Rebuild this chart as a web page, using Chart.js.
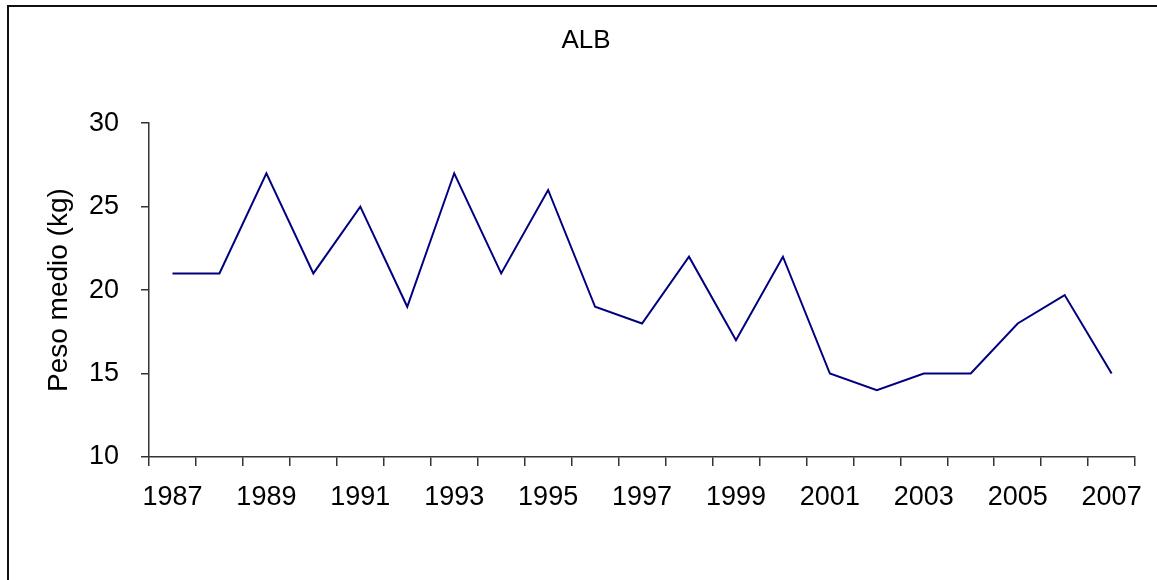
<!DOCTYPE html>
<html>
<head>
<meta charset="utf-8">
<title>ALB</title>
<script src="https://cdn.jsdelivr.net/npm/chart.js@4"></script>
<style>
    html, body { margin: 0; padding: 0; background: #fff; overflow: hidden; }
    #frame {
        position: absolute; left: 7px; top: 5px;
        width: 1300px; height: 700px;
        border-top: 2px solid #111; border-left: 2px solid #111;
    }
    #chart { position: absolute; left: 0; top: 0; }
</style>
</head>
<body>
<div id="frame"></div>
<canvas id="chart" width="1157" height="580"></canvas>
<script>
/* Peso medio ALB, 1987-2007 */

const years = ['1987', '1988', '1989', '1990', '1991', '1992', '1993', '1994', '1995', '1996', '1997',
    '1998', '1999', '2000', '2001', '2002', '2003', '2004', '2005', '2006', '2007'];
const pesoMedio = [21, 21, 27, 21, 25, 19, 27, 21, 26, 19, 18,
    22, 17, 22, 15, 14, 15, 15, 18, 19.7, 15];
const yTicks = [10, 15, 20, 25, 30];

const axisColor = '#333333';
const fontFamily = "'Liberation Sans', Arial, sans-serif";

const ctx = document.getElementById('chart').getContext('2d');
new Chart(ctx, {
    type: 'line',
    data: {
        labels: years,
        datasets: [{
            label: 'ALB',
            data: pesoMedio,
            borderColor: '#000080',
            borderWidth: 2,
            pointRadius: 0,
            tension: 0,
            fill: false
        }]
    },
    options: {
        responsive: false,
        devicePixelRatio: 1,
        animation: false,
        layout: { padding: { left: 30, right: 15, top: 0, bottom: 0 } },
        plugins: {
            legend: { display: false },
            tooltip: { enabled: false },
            title: {
                display: true,
                text: 'ALB',
                color: '#000',
                font: { family: fontFamily, size: 26, weight: 'normal' },
                padding: { top: 25, bottom: 67 }
            }
        },
        scales: {
            x: {
                type: 'category',
                offset: true,
                grid: { offset: true, drawOnChartArea: false, tickLength: 9, color: axisColor, lineWidth: 1.5 },
                border: { color: axisColor, width: 1.5 },
                ticks: {
                    autoSkip: false,
                    maxRotation: 0,
                    padding: 15,
                    color: '#000',
                    font: { family: fontFamily, size: 27 },
                    // only every other year gets a label
                    callback: function(value, index) {
                        return index % 2 === 0 ? years[index] : '';
                    }
                },
                afterFit: function(scale) { scale.height = 123; }
            },
            y: {
                min: yTicks[0],
                max: yTicks[yTicks.length - 1],
                grid: { drawOnChartArea: false, tickLength: 8, color: axisColor, lineWidth: 1.5 },
                border: { color: axisColor, width: 1.5 },
                afterBuildTicks: function(scale) {
                    scale.ticks = yTicks.map(v => ({ value: v }));
                },
                ticks: {
                    padding: 22,
                    color: '#000',
                    font: { family: fontFamily, size: 27 }
                },
                title: {
                    display: true,
                    text: 'Peso medio (kg)',
                    color: '#000',
                    font: { family: fontFamily, size: 28 },
                    padding: { top: 12, bottom: 0 }
                },
                afterFit: function(scale) { scale.width = 119; }
            }
        }
    }
});
</script>
</body>
</html>
